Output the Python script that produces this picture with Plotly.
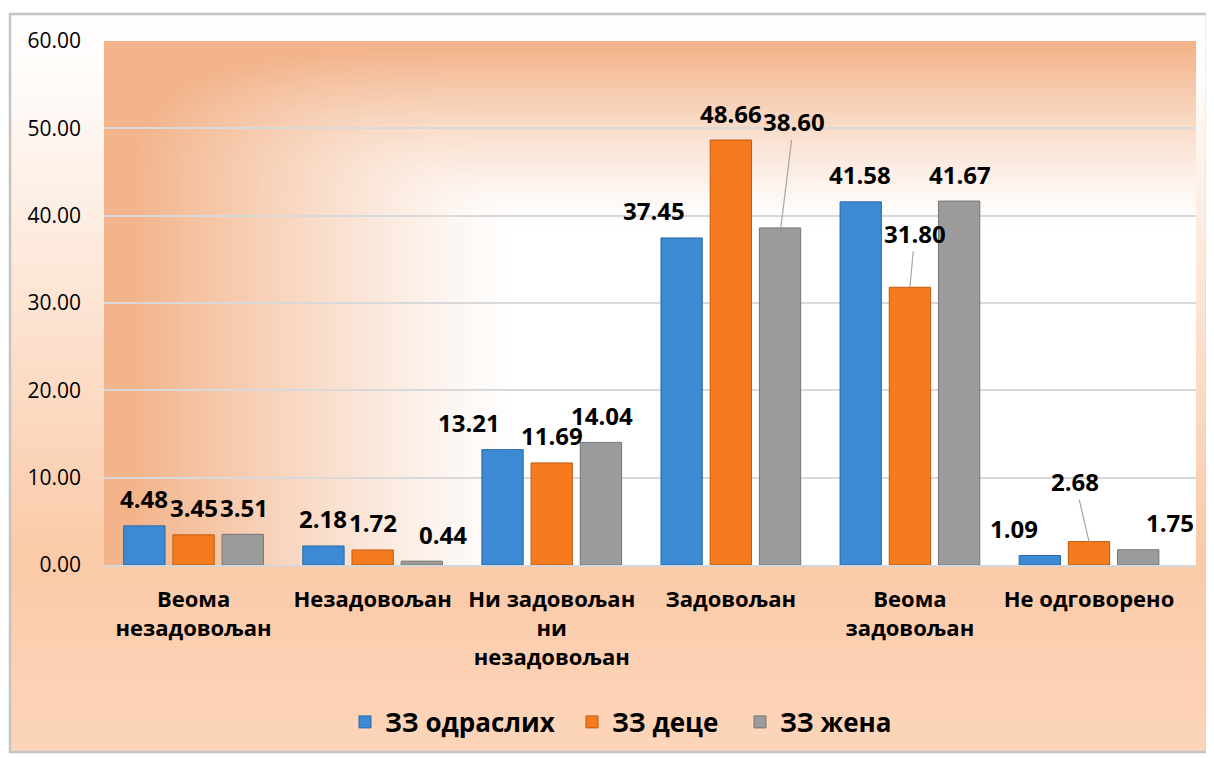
import base64
import struct
import zlib

import numpy as np
import plotly.graph_objects as go

# ---------------- data ----------------
categories = [
    "Веома<br>незадовољан",
    "Незадовољан",
    "Ни задовољан<br>ни<br>незадовољан",
    "Задовољан",
    "Веома<br>задовољан",
    "Не одговорено",
]
series_names = ["ЗЗ одраслих", "ЗЗ деце", "ЗЗ жена"]
adults = [4.48, 2.18, 13.21, 37.45, 41.58, 1.09]
children = [3.45, 1.72, 11.69, 48.66, 31.80, 2.68]
women = [3.51, 0.44, 14.04, 38.60, 41.67, 1.75]
y_ticks = [0, 10, 20, 30, 40, 50, 60]

# ---------------- style ----------------
OFF = 8                      # page body margin
W, H = 1214 - OFF, 758 - OFF
ML, MT = 104 - OFF, 41 - OFF
MR = W - (1196 - OFF)
MB = H - (565 - OFF)
PW, PH = W - ML - MR, H - MT - MB
BARGAP, GROUPGAP = 0.176, 0.16
FONT = "Open Sans, Noto Sans, sans-serif"
fills = ["#3D8AD4", "#F57B1E", "#9B9B9B"]
edges = ["#2B69A6", "#C25A10", "#767676"]
legend_marker_x = [366, 593, 761]   # screen x of legend symbol centres
LEGEND_Y = 722

# label nudges (pixels) and leader-line label offsets (pixels)
nudge = {(0, 2): -33, (0, 3): -27, (0, 5): -25, (2, 1): 20, (2, 5): 31}
leader = {(2, 3): (13, -106), (1, 4): (5, -54), (1, 5): (-14, -60)}
LABEL_LIFT = 27


def png_uri(arr):
    arr = np.clip(arr, 0, 255).astype(np.uint8)
    h, w, _ = arr.shape
    raw = b"".join(b"\x00" + arr[i].tobytes() for i in range(h))

    def chunk(tag, data):
        c = struct.pack(">I", len(data)) + tag + data
        return c + struct.pack(">I", zlib.crc32(tag + data) & 0xFFFFFFFF)

    png = b"\x89PNG\r\n\x1a\n"
    png += chunk(b"IHDR", struct.pack(">IIBBBBB", w, h, 8, 2, 0, 0, 0))
    png += chunk(b"IDAT", zlib.compress(raw, 9))
    png += chunk(b"IEND", b"")
    return "data:image/png;base64," + base64.b64encode(png).decode()


def hexrgb(h):
    h = h.lstrip("#")
    return np.array([int(h[i:i + 2], 16) for i in (0, 2, 4)], dtype=float)


# outer (frame) gradient: vertical white -> peach
gh, gw = 200, 60
stops = [(0.0, "#FFFFFF"), (0.08, "#FFFCFA"), (0.4, "#FDE4D3"),
         (0.74, "#FBCAA8"), (1.0, "#FDD6BB")]
fy = np.linspace(0, 1, gh)
col = np.zeros((gh, 3))
for k in range(3):
    col[:, k] = np.interp(fy, [s[0] for s in stops], [hexrgb(s[1])[k] for s in stops])
outer = np.repeat(col[:, None, :], gw, axis=1)

# plot-area gradient: orange along left and top edges, white toward the centre/right
ph, pw = 200, 300
yy, xx = np.mgrid[0:ph, 0:pw]
fx = xx / (pw - 1)
fyy = yy / (ph - 1)
sx = np.clip((0.37 - fx) / 0.35, 0, 1) ** 1.15
sy = np.clip((0.35 - fyy) / 0.34, 0, 1) ** 1.3
s = np.clip((sx ** 3 + sy ** 3) ** (1 / 3), 0, 1)
orange = hexrgb("#F3B48B")
white = hexrgb("#FFFFFF")
inner = white[None, None, :] + (orange - white)[None, None, :] * s[..., None]


def xp(px):
    """screen x pixel -> paper fraction"""
    return (px - OFF - ML) / PW


def yp(py):
    """screen y pixel -> paper fraction"""
    return (H - MB - (py - OFF)) / PH


fig = go.Figure()
series = [adults, children, women]
legend_ids = ["legend", "legend2", "legend3"]
for i, (name, vals) in enumerate(zip(series_names, series)):
    fig.add_trace(go.Bar(
        x=categories, y=vals, name=name, legend=legend_ids[i],
        marker=dict(color=fills[i], line=dict(color=edges[i], width=1)),
    ))

cat_px = PW / len(categories)
slot = cat_px * (1 - BARGAP) / 3
annotations = []
for i, vals in enumerate(series):
    off = (i - 1) * slot
    for c, v in enumerate(vals):
        txt = f"{v:.2f}"
        lab_font = dict(family=FONT, size=24, color="#000000", weight="bold")
        if (i, c) in leader:
            ax, ay = leader[(i, c)]
            annotations.append(dict(
                x=categories[c], y=v, xref="x", yref="y", xshift=off,
                text=txt, showarrow=True, ax=ax, ay=ay, arrowhead=0,
                arrowwidth=1.2, arrowcolor="#A6A6A6", standoff=0, font=lab_font))
        else:
            annotations.append(dict(
                x=categories[c], y=v, xref="x", yref="y",
                xshift=off + nudge.get((i, c), 0), yshift=LABEL_LIFT,
                yanchor="middle", text=txt, showarrow=False, font=lab_font))

legend_common = dict(
    orientation="h", xanchor="left", yanchor="middle", y=yp(LEGEND_Y),
    font=dict(family=FONT, size=26, color="#000000", weight="bold"),
    bgcolor="rgba(0,0,0,0)", borderwidth=0, itemclick=False,
)
legends = {lid: dict(legend_common, x=xp(mx - 21)) for lid, mx in zip(legend_ids, legend_marker_x)}

fig.update_layout(
    width=W, height=H,
    margin=dict(l=ML, r=MR, t=MT, b=MB, pad=0),
    paper_bgcolor="#FFFFFF",
    plot_bgcolor="rgba(0,0,0,0)",
    barmode="group", bargap=BARGAP, bargroupgap=GROUPGAP,
    font=dict(family=FONT, color="#000000"),
    annotations=annotations,
    showlegend=True,
    images=[
        dict(source=png_uri(outer), xref="paper", yref="paper", x=xp(10), y=yp(14),
             sizex=(1207 - 10) / PW, sizey=(752 - 14) / PH, xanchor="left", yanchor="top",
             sizing="stretch", layer="below"),
        dict(source=png_uri(inner), xref="paper", yref="paper", x=0, y=1,
             sizex=1, sizey=1, xanchor="left", yanchor="top",
             sizing="stretch", layer="below"),
    ],
    shapes=[
        dict(type="rect", xref="paper", yref="paper", x0=xp(10), y0=yp(752),
             x1=xp(1207), y1=yp(14), line=dict(color="#C4C4C4", width=2.5),
             fillcolor="rgba(0,0,0,0)", layer="above"),
    ],
    **legends,
)

fig.update_yaxes(
    range=[0, 60], tickvals=y_ticks, tickformat=".2f",
    showgrid=True, gridcolor="#D9D9D9", gridwidth=1.5,
    zeroline=False, showline=False, ticks="", ticklabelstandoff=22,
    tickfont=dict(family=FONT, size=21, color="#000000"),
)
fig.update_xaxes(
    showline=True, linecolor="#D6D6D6", linewidth=2,
    ticks="", ticklabelstandoff=14, tickangle=0,
    tickfont=dict(family=FONT, size=22, color="#000000", weight="bold"),
)

fig.write_html("out.html")
